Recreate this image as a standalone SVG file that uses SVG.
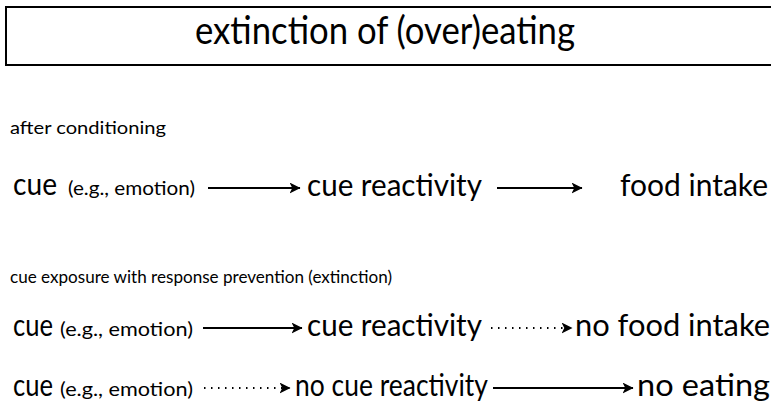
<svg xmlns="http://www.w3.org/2000/svg" width="771" height="401" viewBox="0 0 771 401">
<defs>
<style>
text{font-family:"Lato","Open Sans","Liberation Sans",sans-serif;fill:#000}
.big{font-size:30px}
.sm{font-size:18.5px}
.lbl{font-size:17px}
.ttl{font-size:39px}
.solid{stroke:#000;stroke-width:2;fill:none}
.dot{stroke:#000;stroke-width:2;fill:none;stroke-dasharray:1.5 5.5;stroke-linecap:butt}
</style>
<marker id="ah" viewBox="0 0 10 10" refX="9.5" refY="5" markerWidth="5.5" markerHeight="5.5" markerUnits="strokeWidth" orient="auto">
<path d="M0,0 L10,5 L0,10 L2.5,5 Z" fill="#000"/>
</marker>
</defs>
<g id="title">
<rect x="6" y="7" width="780" height="58" fill="#fff" stroke="#000" stroke-width="2"/>
<text class="ttl" x="195" y="44" textLength="380" lengthAdjust="spacingAndGlyphs">extinction of (over)eating</text>
</g>
<text class="lbl" x="10" y="134" textLength="156" lengthAdjust="spacingAndGlyphs">after conditioning</text>
<text class="lbl" x="10" y="283" textLength="382" lengthAdjust="spacingAndGlyphs">cue exposure with response prevention (extinction)</text>
<g id="r1-cue"><text class="big" x="13" y="195" textLength="44" lengthAdjust="spacingAndGlyphs">cue</text><text class="sm" x="68" y="195" textLength="127" lengthAdjust="spacingAndGlyphs">(e.g., emotion)</text></g>
<g id="r1-react"><text class="big" x="307" y="196" textLength="175" lengthAdjust="spacingAndGlyphs">cue reactivity</text></g>
<g id="r1-food"><text class="big" x="620" y="196" textLength="148" lengthAdjust="spacingAndGlyphs">food intake</text></g>
<g id="r2-cue"><text class="big" x="13" y="336" textLength="40" lengthAdjust="spacingAndGlyphs">cue</text><text class="sm" x="60" y="336" textLength="133" lengthAdjust="spacingAndGlyphs">(e.g., emotion)</text></g>
<g id="r2-react"><text class="big" x="307" y="336" textLength="175" lengthAdjust="spacingAndGlyphs">cue reactivity</text></g>
<g id="r2-food"><text class="big" x="575" y="336" textLength="195" lengthAdjust="spacingAndGlyphs">no food intake</text></g>
<g id="r3-cue"><text class="big" x="13" y="396" textLength="40" lengthAdjust="spacingAndGlyphs">cue</text><text class="sm" x="60" y="396" textLength="133" lengthAdjust="spacingAndGlyphs">(e.g., emotion)</text></g>
<g id="r3-react"><text class="big" x="295" y="396" textLength="193" lengthAdjust="spacingAndGlyphs">no cue reactivity</text></g>
<g id="r3-eat"><text class="big" x="637" y="396" textLength="133" lengthAdjust="spacingAndGlyphs">no eating</text></g>
<g id="connectors">
<line class="solid" x1="208" y1="188" x2="300" y2="188" marker-end="url(#ah)"/>
<line class="solid" x1="497" y1="188" x2="582" y2="188" marker-end="url(#ah)"/>
<line class="solid" x1="203" y1="328" x2="302" y2="328" marker-end="url(#ah)"/>
<line class="dot" x1="491" y1="328" x2="572" y2="328" marker-end="url(#ah)"/>
<line class="dot" x1="204" y1="388" x2="290" y2="388" marker-end="url(#ah)"/>
<line class="solid" x1="493" y1="388" x2="633" y2="388" marker-end="url(#ah)"/>
</g>
</svg>
